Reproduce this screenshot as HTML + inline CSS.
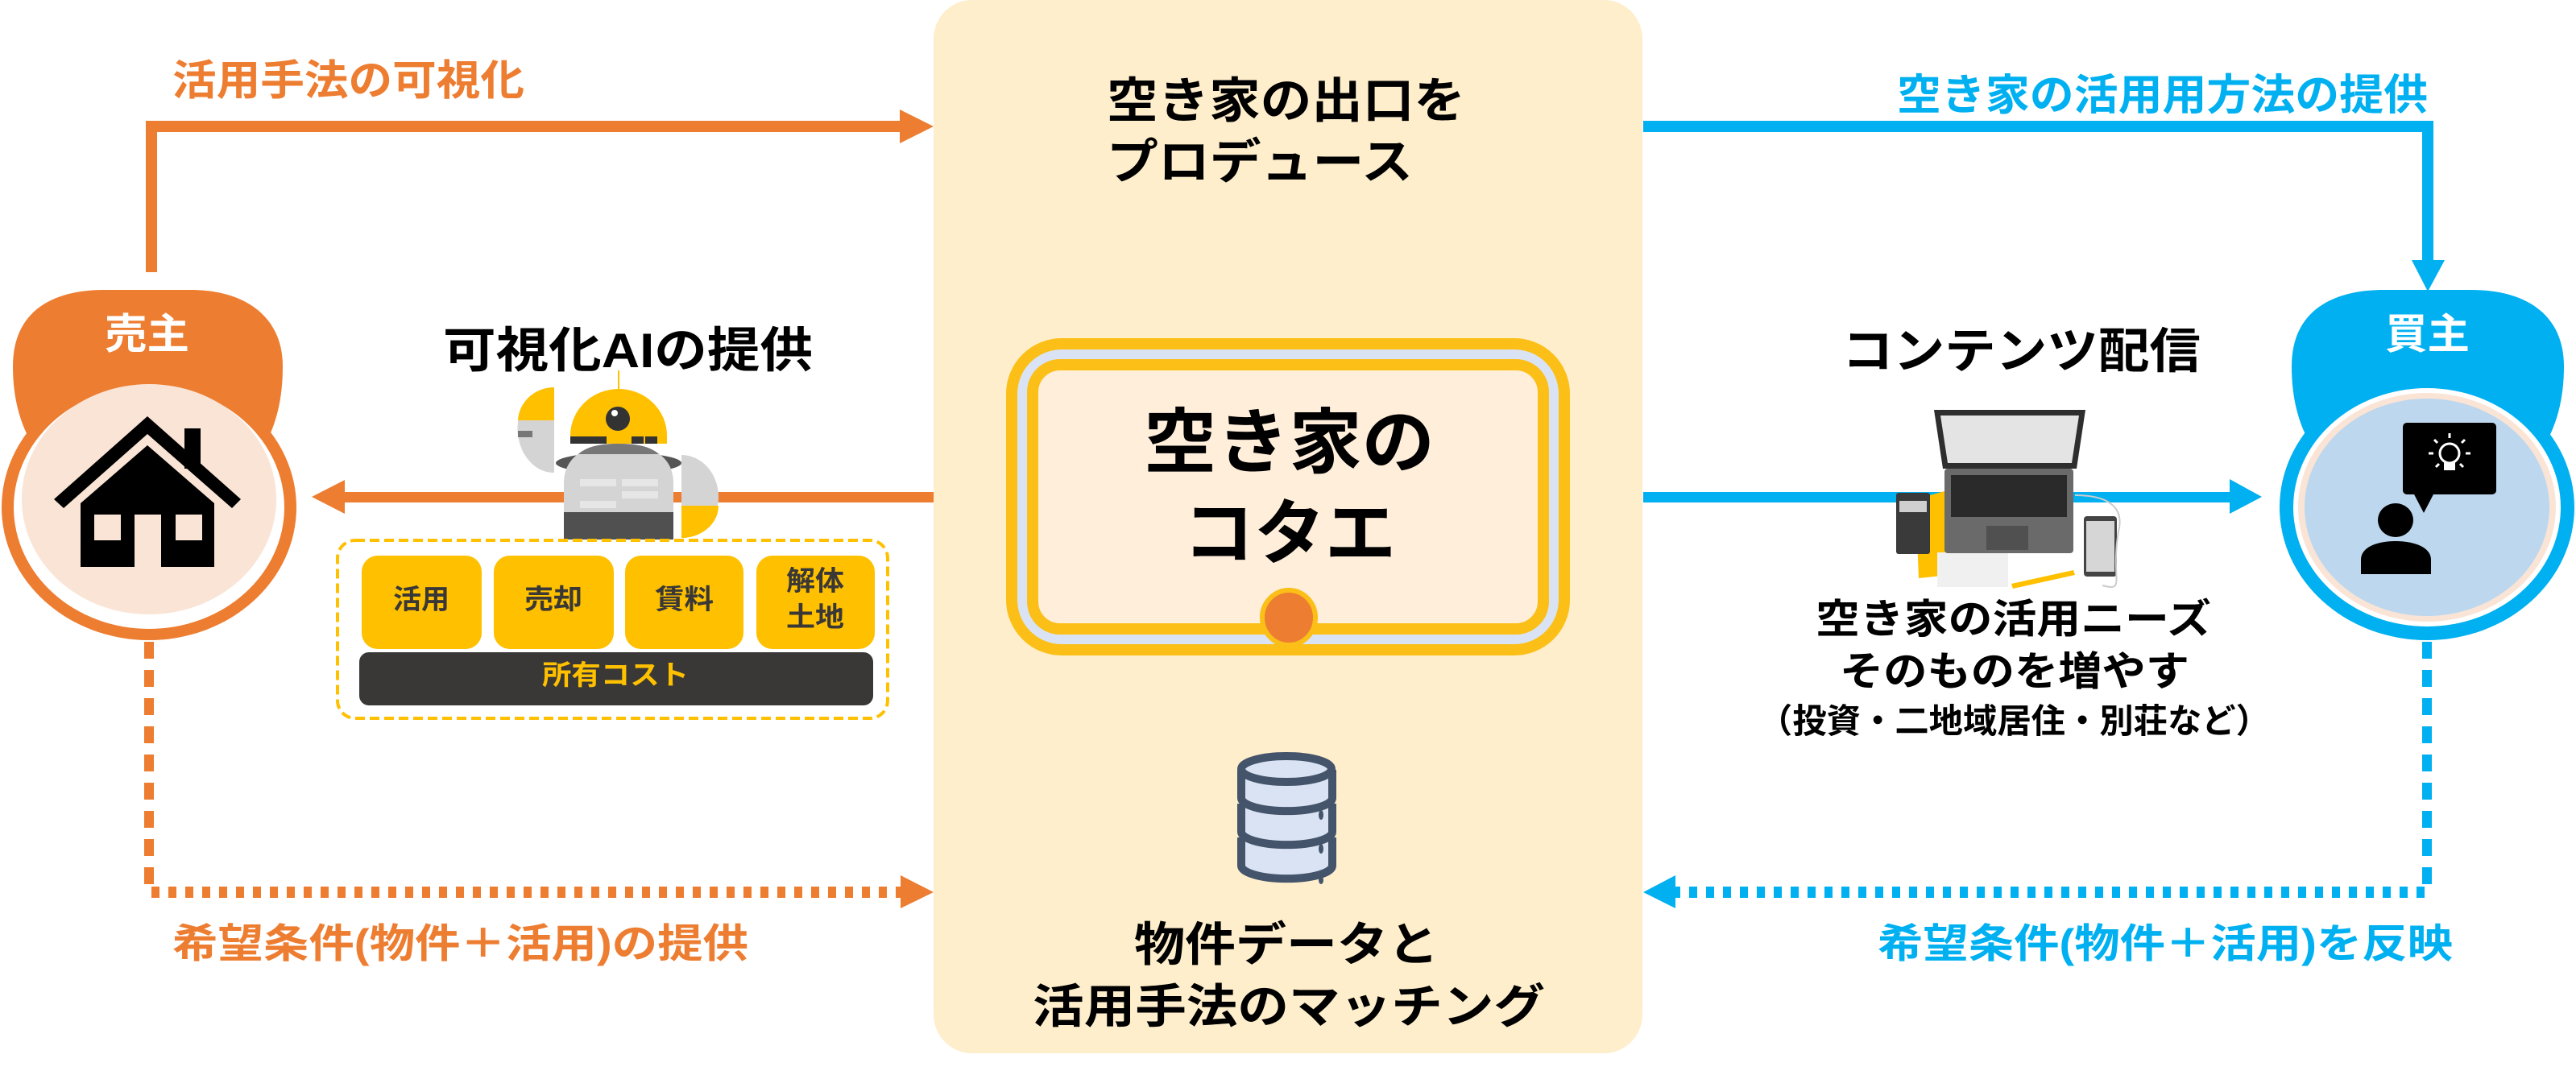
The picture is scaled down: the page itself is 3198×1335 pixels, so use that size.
<!DOCTYPE html>
<html><head><meta charset="utf-8">
<style>
html,body{margin:0;padding:0;background:#fff;}
svg{display:block;}
text{font-family:"Liberation Sans","Noto Sans CJK JP",sans-serif;font-weight:700;}
</style></head>
<body>
<svg width="3198" height="1335" viewBox="0 0 3198 1335" xmlns="http://www.w3.org/2000/svg">
<rect x="1159" y="0" width="880" height="1308" rx="48" fill="#feeecb"/>

<path d="M188 338 V157 H1120" fill="none" stroke="#ed7d31" stroke-width="14"/>
<polygon points="1117,136 1159,157 1117,178" fill="#ed7d31"/>
<text x="214" y="118" font-size="52" fill="#ed7d31" textLength="437" lengthAdjust="spacingAndGlyphs">活用手法の可視化</text>

<path d="M2040 157 H3014 V330" fill="none" stroke="#00b0f0" stroke-width="14"/>
<polygon points="2994,323 3035,323 3014,362" fill="#00b0f0"/>
<text x="2355" y="136" font-size="53" fill="#00b0f0" textLength="659" lengthAdjust="spacingAndGlyphs">空き家の活用用方法の提供</text>

<text x="1374" y="146" font-size="60" fill="#000" textLength="445" lengthAdjust="spacingAndGlyphs">空き家の出口を</text>
<text x="1374" y="222" font-size="60" fill="#000" textLength="380" lengthAdjust="spacingAndGlyphs">プロデュース</text>

<rect x="1256" y="427" width="686" height="380" rx="62" fill="#dae3f3" stroke="#fbbf17" stroke-width="14"/>
<rect x="1282" y="453" width="634" height="328" rx="34" fill="#feeeda" stroke="#fbbf17" stroke-width="14"/>
<ellipse cx="1600" cy="767" rx="33" ry="34" fill="#ed7d31" stroke="#fbbf17" stroke-width="6"/>
<text x="1420" y="580" font-size="88" fill="#000" textLength="361" lengthAdjust="spacingAndGlyphs">空き家の</text>
<text x="1469" y="693" font-size="88" fill="#000" textLength="264" lengthAdjust="spacingAndGlyphs">コタエ</text>

<g fill="#dae3f3" stroke="#44546a" stroke-width="10">
  <path d="M1541 1040 V1075 A56 16 0 0 0 1654 1075 V1040"/>
  <path d="M1541 998 V1033 A56 16 0 0 0 1654 1033 V998"/>
  <path d="M1541 956 V991 A56 16 0 0 0 1654 991 V956"/>
  <ellipse cx="1597" cy="955" rx="56" ry="16"/>
</g>
<g fill="#44546a"><ellipse cx="1640" cy="1012" rx="3" ry="6"/><ellipse cx="1640" cy="1054" rx="3" ry="6"/><ellipse cx="1640" cy="1093" rx="3" ry="5"/></g>

<text x="1408" y="1193" font-size="58" fill="#000" textLength="378" lengthAdjust="spacingAndGlyphs">物件データと</text>
<text x="1282" y="1270" font-size="58" fill="#000" textLength="636" lengthAdjust="spacingAndGlyphs">活用手法のマッチング</text>

<!-- seller -->
<path d="M16 455 C16 390 60 360 130 360 L237 360 C300 360 351 390 351 455 C351 520 330 560 300 590 L70 590 C40 560 16 520 16 455 Z" fill="#ed7d31"/>
<ellipse cx="185" cy="630" rx="183" ry="165" fill="#ed7d31"/>
<ellipse cx="185" cy="630" rx="168" ry="151" fill="#fff"/>
<ellipse cx="185" cy="620" rx="158" ry="143" fill="#fae4d6"/>
<text x="130" y="433" font-size="52" fill="#fff" textLength="105" lengthAdjust="spacingAndGlyphs">売主</text>
<polygon points="183,517 299,620 288,631 183,539 79,631 67,620" fill="#000"/>
<rect x="229" y="532" width="20" height="50" fill="#000"/>
<polygon points="183,553 266,625 266,704 100,704 100,625" fill="#000"/>
<rect x="117" y="639" width="33" height="32" fill="#fae4d6"/>
<rect x="167" y="639" width="33" height="65" fill="#fae4d6"/>
<rect x="218" y="639" width="33" height="32" fill="#fae4d6"/>

<!-- buyer -->
<path d="M2845 455 C2845 390 2890 360 2960 360 L3068 360 C3135 360 3183 390 3183 455 C3183 520 3160 560 3130 590 L2898 590 C2868 560 2845 520 2845 455 Z" fill="#00b0f0"/>
<ellipse cx="3013" cy="630" rx="183" ry="165" fill="#00b0f0"/>
<ellipse cx="3013" cy="630" rx="166" ry="148" fill="#fff"/>
<ellipse cx="3013" cy="630" rx="160" ry="142" fill="#fae4d6"/>
<ellipse cx="3013" cy="630" rx="152" ry="135" fill="#bdd7ee"/>
<text x="2961" y="433" font-size="52" fill="#fff" textLength="105" lengthAdjust="spacingAndGlyphs">買主</text>
<rect x="2983" y="525" width="116" height="89" rx="5" fill="#000"/>
<polygon points="2996,612 3022,612 3009,637" fill="#000"/>
<g fill="none" stroke="#fff" stroke-width="3">
  <circle cx="3041" cy="563" r="12"/>
  <path d="M3041 538 v6 M3022 546 l4 4 M3060 546 l-4 4 M3015 563 h6 M3061 563 h6 M3024 580 l4 -4 M3058 580 l-4 -4"/>
</g>
<rect x="3034" y="574" width="14" height="10" fill="#fff"/>
<ellipse cx="2974" cy="646" rx="22" ry="21" fill="#000"/>
<path d="M2931 713 V695 C2931 680 2950 672 2974 672 C2998 672 3018 680 3018 695 V713 Z" fill="#000"/>

<rect x="420" y="611" width="739" height="13" fill="#ed7d31"/>
<polygon points="428,596 387,617 428,638" fill="#ed7d31"/>
<rect x="2040" y="611" width="732" height="13" fill="#00b0f0"/>
<polygon points="2768,595 2808,617 2768,638" fill="#00b0f0"/>

<text x="550" y="456" font-size="60" fill="#000" textLength="459" lengthAdjust="spacingAndGlyphs">可視化AIの提供</text>

<line x1="768" y1="460" x2="768" y2="484" stroke="#ffc000" stroke-width="2"/>
<path d="M643 524 A45 45 0 0 1 688 481 V587 A45 55 0 0 1 643 524 Z" fill="#d4d4d4"/>
<path d="M643 522 A45 43 0 0 1 688 481 V522 Z" fill="#ffc000"/>
<rect x="643" y="535" width="18" height="8" fill="#777"/>
<path d="M846 565 A46 52 0 0 1 892 617 A46 51 0 0 1 846 668 Z" fill="#d4d4d4"/>
<path d="M846 668 V628 H892 A46 40 0 0 1 846 668 Z" fill="#ffc000"/>
<ellipse cx="768" cy="575" rx="78" ry="13" fill="#555"/>
<path d="M700 636 V600 C700 565 730 551 768 551 C806 551 836 565 836 600 V636 Z" fill="#d4d4d4"/>
<path d="M718 564 C730 553 750 551 768 551 C786 551 806 553 818 564 Z" fill="#777"/>
<rect x="720" y="595" width="45" height="9" fill="#e6e6e6"/><rect x="772" y="595" width="45" height="9" fill="#e6e6e6"/>
<rect x="720" y="622" width="45" height="9" fill="#e6e6e6"/><rect x="772" y="610" width="45" height="9" fill="#e6e6e6"/>
<rect x="700" y="636" width="136" height="34" fill="#505050"/>
<path d="M708 551 V541 A60 58 0 0 1 828 541 V551 Z" fill="#ffc000"/>
<rect x="708" y="542" width="45" height="9" fill="#333"/><rect x="784" y="542" width="15" height="9" fill="#333"/><rect x="801" y="542" width="15" height="9" fill="#333"/>
<circle cx="767" cy="520" r="15" fill="#333"/><circle cx="763" cy="513" r="4" fill="#fff"/>

<rect x="419" y="671" width="683" height="221" rx="22" fill="none" stroke="#ffc000" stroke-width="4" stroke-dasharray="12 6"/>
<g fill="#ffc000">
  <rect x="449" y="690" width="149" height="116" rx="20"/>
  <rect x="613" y="690" width="149" height="116" rx="20"/>
  <rect x="776" y="690" width="147" height="116" rx="20"/>
  <rect x="939" y="690" width="147" height="116" rx="20"/>
</g>
<rect x="446" y="810" width="638" height="66" rx="12" fill="#3a3836"/>
<g fill="#3a3836" font-size="34">
  <text x="488" y="756" textLength="70" lengthAdjust="spacingAndGlyphs">活用</text>
  <text x="651" y="756" textLength="72" lengthAdjust="spacingAndGlyphs">売却</text>
  <text x="813" y="756" textLength="73" lengthAdjust="spacingAndGlyphs">賃料</text>
  <text x="976" y="733" textLength="72" lengthAdjust="spacingAndGlyphs">解体</text>
  <text x="976" y="778" textLength="72" lengthAdjust="spacingAndGlyphs">土地</text>
</g>
<text x="673" y="850" font-size="34" fill="#ffc000" textLength="182" lengthAdjust="spacingAndGlyphs">所有コスト</text>

<text x="2287" y="457" font-size="60" fill="#000" textLength="445" lengthAdjust="spacingAndGlyphs">コンテンツ配信</text>
<polygon points="2378,620 2450,600 2460,710 2382,718" fill="#ffc000"/>
<rect x="2405" y="686" width="88" height="43" fill="#f0f0f0"/>
<polygon points="2497,725 2574,708 2576,714 2499,731" fill="#ffc000"/>
<polygon points="2401,509 2589,509 2578,582 2412,582" fill="#2e2e2e"/>
<polygon points="2409,516 2581,516 2572,575 2418,575" fill="#e4e4e4"/>
<rect x="2414" y="582" width="160" height="105" rx="4" fill="#6a6a6a"/>
<rect x="2422" y="590" width="144" height="52" fill="#2a2a2a"/>
<rect x="2466" y="653" width="52" height="30" fill="#505050"/>
<rect x="2354" y="612" width="42" height="76" rx="3" fill="#3a3a3a"/>
<rect x="2358" y="622" width="34" height="14" fill="#cfcfcf"/>
<rect x="2587" y="641" width="41" height="75" rx="4" fill="#444"/>
<rect x="2590" y="647" width="35" height="63" fill="#d6d6d6"/>
<path d="M2576 615 C2600 615 2640 620 2630 660 C2620 720 2640 735 2610 727" fill="none" stroke="#ccc" stroke-width="2"/>

<text x="2254" y="786" font-size="50" fill="#000" textLength="491" lengthAdjust="spacingAndGlyphs">空き家の活用ニーズ</text>
<text x="2284" y="851" font-size="50" fill="#000" textLength="434" lengthAdjust="spacingAndGlyphs">そのものを増やす</text>
<text x="2183" y="910" font-size="42" fill="#000" textLength="635" lengthAdjust="spacingAndGlyphs">（投資・二地域居住・別荘など）</text>

<line x1="185" y1="797" x2="185" y2="1100" stroke="#ed7d31" stroke-width="12" stroke-dasharray="21 14"/>
<line x1="188" y1="1108" x2="1118" y2="1108" stroke="#ed7d31" stroke-width="14" stroke-dasharray="10 11"/>
<polygon points="1118,1087 1159,1108 1118,1128" fill="#ed7d31"/>
<text x="214" y="1189" font-size="50" fill="#ed7d31" textLength="715" lengthAdjust="spacingAndGlyphs">希望条件(物件＋活用)の提供</text>

<line x1="3013" y1="797" x2="3013" y2="1100" stroke="#00b0f0" stroke-width="12" stroke-dasharray="21 14"/>
<line x1="3010" y1="1108" x2="2080" y2="1108" stroke="#00b0f0" stroke-width="14" stroke-dasharray="10 11"/>
<polygon points="2080,1087 2040,1108 2080,1128" fill="#00b0f0"/>
<text x="2331" y="1189" font-size="50" fill="#00b0f0" textLength="714" lengthAdjust="spacingAndGlyphs">希望条件(物件＋活用)を反映</text>
</svg>
</body></html>
